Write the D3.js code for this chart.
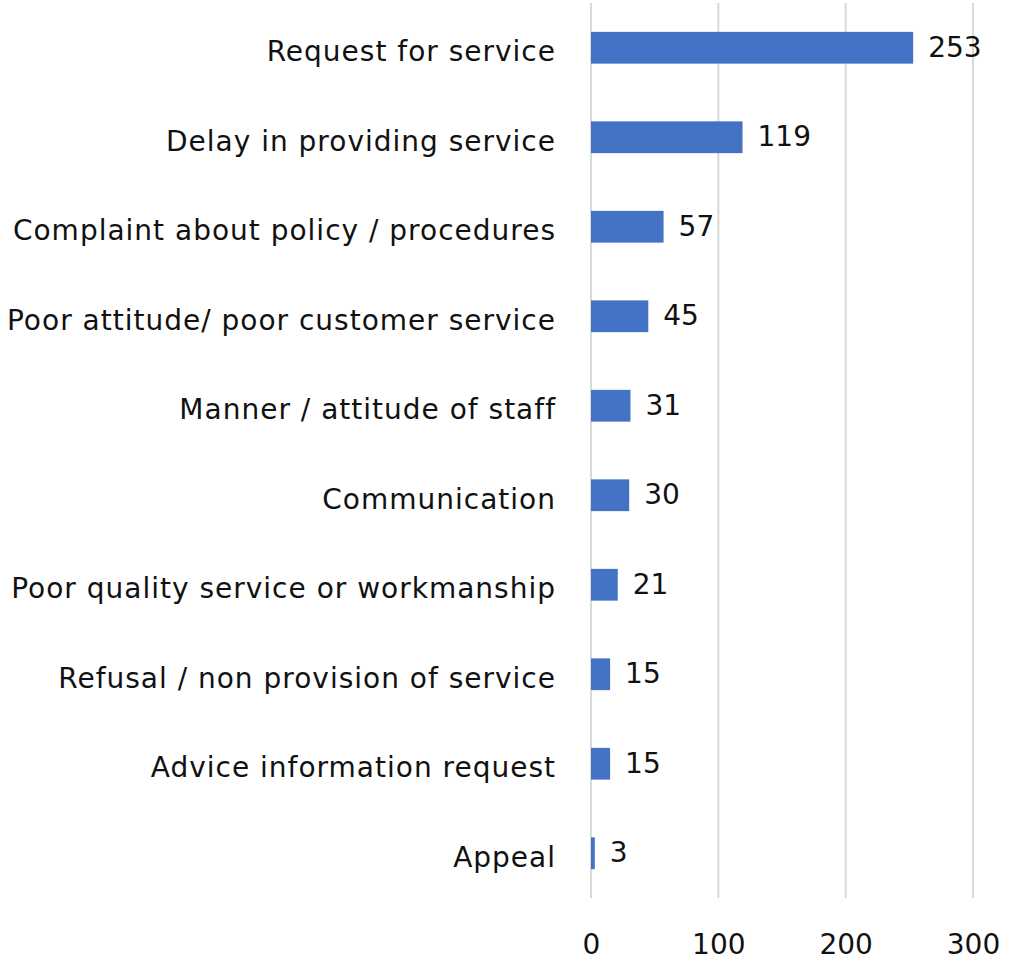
<!DOCTYPE html>
<html>
<head>
    <meta charset="utf-8">
    <title>Complaints by type</title>
    <style>
        body { margin: 0; background: #fff; }
        text { font-family: "DejaVu Sans", sans-serif; fill: #111; }
    </style>
</head>
<body>
    <svg id="chart" width="1019" height="960"></svg>
    <script src="https://cdn.jsdelivr.net/npm/d3@7/dist/d3.min.js"></script>
    <script>
        // categories top to bottom
        const categories = [
            "Request for service",
            "Delay in providing service",
            "Complaint about policy / procedures",
            "Poor attitude/ poor customer service",
            "Manner / attitude of staff",
            "Communication",
            "Poor quality service or workmanship",
            "Refusal / non provision of service",
            "Advice information request",
            "Appeal"
        ];
        const counts = [253, 119, 57, 45, 31, 30, 21, 15, 15, 3];
        const xTicks = [0, 100, 200, 300];

        const data = categories.map((c, i) => ({ name: c, value: counts[i] }));

        const svg = d3.select("#chart");

        const x = d3.scaleLinear()
            .domain([0, 300])
            .range([591, 973]);

        const y = d3.scaleBand()
            .domain(categories)
            .range([3, 898])
            .paddingInner(0.645)
            .paddingOuter(0.3225);

        // gridlines
        svg.append("g")
            .selectAll("line")
            .data(xTicks)
            .join("line")
            .attr("x1", d => x(d))
            .attr("x2", d => x(d))
            .attr("y1", 3)
            .attr("y2", 898)
            .attr("stroke", "#d9d9d9")
            .attr("stroke-width", 2);

        // x axis labels
        const gx = svg.append("g")
            .attr("transform", "translate(0,898)")
            .call(d3.axisBottom(x).tickValues(xTicks).tickSize(0).tickPadding(36));
        gx.select(".domain").remove();
        gx.selectAll("text")
            .attr("font-size", 28)
            .attr("font-family", "DejaVu Sans, sans-serif")
            .attr("fill", "#111");

        // category labels
        const gy = svg.append("g")
            .attr("transform", "translate(591,0)")
            .call(d3.axisLeft(y).tickSize(0).tickPadding(35));
        gy.select(".domain").remove();
        gy.selectAll("text")
            .attr("font-size", 28)
            .attr("font-family", "DejaVu Sans, sans-serif")
            .attr("letter-spacing", "1px")
            .attr("fill", "#111")
            .attr("dy", "0.48em");

        // bars
        svg.append("g")
            .selectAll("rect")
            .data(data)
            .join("rect")
            .attr("x", x(0))
            .attr("y", d => y(d.name))
            .attr("width", d => x(d.value) - x(0))
            .attr("height", y.bandwidth())
            .attr("fill", "#4472C4");

        // value labels
        svg.append("g")
            .selectAll("text")
            .data(data)
            .join("text")
            .attr("x", d => x(d.value) + 15)
            .attr("y", d => y(d.name) + y.bandwidth() / 2 - 1)
            .attr("dy", "0.35em")
            .attr("font-size", 28)
            .text(d => d.value);
    </script>
</body>
</html>
